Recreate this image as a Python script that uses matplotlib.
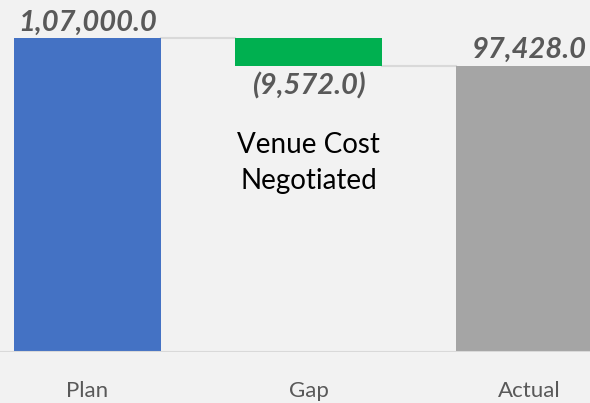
import matplotlib.pyplot as plt

plt.rcParams['font.family'] = ['Lato', 'DejaVu Sans']

# data
categories = ['Plan', 'Gap', 'Actual']
plan = 107000.0
actual = 97428.0
gap = actual - plan
labels = ['1,07,000.0', '(9,572.0)', '97,428.0']
note = 'Venue Cost\nNegotiated'

bg = '#f2f2f2'
grey_txt = '#595959'
line_col = '#d9d9d9'

fig = plt.figure(figsize=(5.9, 4.03), dpi=100, facecolor=bg)
ax = fig.add_axes([0, 51 / 403, 1, 352 / 403])
ax.set_facecolor(bg)

w = 0.665
x = [0, 1, 2]
bottoms = [0, actual, 0]
heights = [plan, -gap, actual]
colors = ['#4472c4', '#00b050', '#a5a5a5']
ax.bar(x, heights, bottom=bottoms, width=w, color=colors, zorder=3)

# connectors
ax.plot([x[0] + w / 2, x[1] - w / 2], [plan, plan], color=line_col, lw=1.5, zorder=2)
ax.plot([x[1] + w / 2, x[2] - w / 2], [actual, actual], color=line_col, lw=1.5, zorder=2)
ax.axhline(0, color=line_col, lw=1.5, zorder=4)

lab_kw = dict(ha='center', fontsize=21, fontweight='bold', fontstyle='italic', color=grey_txt)
ax.text(x[0], plan + 2600, labels[0], va='baseline', **lab_kw)
ax.text(x[1], actual - 2000, labels[1], va='top', **lab_kw)
ax.text(x[2], actual + 3000, labels[2], va='baseline', **lab_kw)

ax.text(x[1], 64500, note, ha='center', va='center', fontsize=20, color='black',
        linespacing=1.45)

ax.set_xlim(-87.5 / 221, (590 - 87.5) / 221)
ax.set_ylim(0, 120000)
ax.set_xticks(x)
ax.set_xticklabels(categories, fontsize=16, color=grey_txt)
ax.tick_params(axis='x', length=0, pad=21)
ax.set_yticks([])
for s in ax.spines.values():
    s.set_visible(False)

fig.savefig('out.png', dpi=100, facecolor=bg)
